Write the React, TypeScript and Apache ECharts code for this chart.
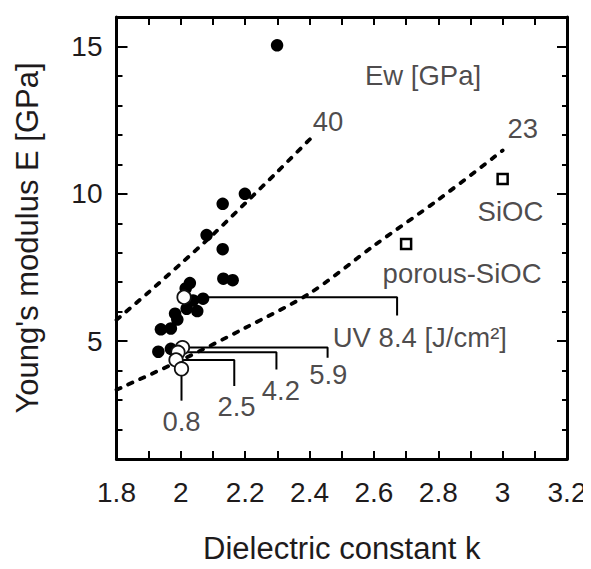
import React, { useEffect, useRef } from "react";
import * as echarts from "echarts";

// ---- data ----
const filledK = [2.028, 2.015, 2.038, 2.069, 2.018, 2.051, 1.982, 1.989, 1.938, 1.969, 1.93, 1.969, 2.132, 2.161, 2.299, 2.199, 2.13, 2.08, 2.13];
const filledE = [6.97, 6.79, 6.38, 6.44, 6.1, 6.02, 5.93, 5.73, 5.4, 5.43, 4.64, 4.74, 7.12, 7.07, 15.04, 10.0, 9.66, 8.6, 8.12];

const uvDoses = ["8.4", "5.9", "4.2", "2.5", "0.8"];
const openK = [2.01, 2.005, 1.991, 1.985, 2.002];
const openE = [6.49, 4.78, 4.62, 4.36, 4.06];

const refNames = ["SiOC", "porous-SiOC"];
const refK = [3.0, 2.7];
const refE = [10.5, 8.3];

const curve40K = [1.8, 1.9, 2.0, 2.1, 2.2, 2.3, 2.41];
const curve40E = [5.72, 6.66, 7.63, 8.62, 9.68, 10.75, 11.95];
const curve23K = [1.8, 2.0, 2.2, 2.4, 2.6, 2.8, 3.0];
const curve23E = [3.35, 4.35, 5.45, 6.62, 8.24, 9.8, 11.47];

const xMin = 1.8, xMax = 3.2, xStep = 0.1;
const yMin = 1, yMax = 16, yStep = 1;
const yLabelValues = [5, 10, 15];

// ---- annotation layout (data-space anchors) ----
// leader line ends for each UV dose: horizontal to endK, then down to endE
const leaderEndK = [2.672, 2.456, 2.297, 2.166, 2.002];
const leaderEndE = [5.87, 4.44, 4.04, 3.48, 2.98];

const annotations = [
  { text: "Ew [GPa]", k: 2.572, e: 14.0, align: "left" },
  { text: "40", k: 2.41, e: 12.46, align: "left" },
  { text: "23", k: 3.015, e: 12.23, align: "left" },
  { text: "SiOC", k: 2.922, e: 9.39, align: "left" },
  { text: "porous-SiOC", k: 2.627, e: 7.31, align: "left" },
  { text: "UV 8.4 [J/cm²]", k: 2.472, e: 5.14, align: "left" },
  { text: "5.9", k: 2.458, e: 3.87, align: "center" },
  { text: "4.2", k: 2.311, e: 3.31, align: "center" },
  { text: "2.5", k: 2.173, e: 2.77, align: "center" },
  { text: "0.8", k: 2.002, e: 2.27, align: "center" },
];

const FONT = "'Liberation Sans', Arial, Helvetica, sans-serif";
const TXT = "#1e1b1c";

export default function App() {
  const ref = useRef<HTMLDivElement>(null);
  useEffect(() => {
    if (!ref.current) return;
    const chart = echarts.init(ref.current, undefined, { renderer: "svg" });

    const dash = { type: [4.5, 8.5] as any, width: 3.8, cap: "round" as any, color: "#000" };
    const tickStyle = { color: "#000", width: 2 };
    const lineStyleAxis = { color: "#000", width: 3 };

    const leaderSeries = uvDoses.map((d, i) => ({
      type: "line",
      name: "UV " + d,
      symbol: "none",
      silent: true,
      z: 3,
      lineStyle: { color: "#000", width: 2 },
      data:
        i === uvDoses.length - 1
          ? [[openK[i], openE[i]], [leaderEndK[i], leaderEndE[i]]]
          : [
              [openK[i], openE[i]],
              [leaderEndK[i], openE[i]],
              [leaderEndK[i], leaderEndE[i]],
            ],
    }));

    chart.setOption({
      animation: false,
      backgroundColor: "#fff",
      grid: { left: 116.5, right: 24, top: 17, bottom: 103, containLabel: false },
      xAxis: [
        {
          type: "value",
          position: "bottom",
          min: xMin,
          max: xMax,
          interval: xStep,
          splitLine: { show: false },
          axisLine: { lineStyle: lineStyleAxis },
          axisTick: { inside: true, length: 8, lineStyle: tickStyle },
          axisLabel: {
            fontSize: 28,
            fontFamily: FONT,
            color: TXT,
            margin: 19,
            formatter: (v: number) => {
              const t = Math.round(v * 10);
              return t % 2 === 0 ? String(t / 10) : "";
            },
          },
          name: "Dielectric constant k",
          nameLocation: "middle",
          nameGap: 74,
          nameTextStyle: { fontSize: 31, fontFamily: FONT, color: TXT },
        },
        {
          type: "value",
          position: "top",
          min: xMin,
          max: xMax,
          interval: xStep,
          splitLine: { show: false },
          axisLine: { lineStyle: lineStyleAxis },
          axisTick: { inside: true, length: 8, lineStyle: tickStyle },
          axisLabel: { show: false },
        },
      ],
      yAxis: [
        {
          type: "value",
          position: "left",
          min: yMin,
          max: yMax,
          interval: yStep,
          splitLine: { show: false },
          axisLine: { show: true, lineStyle: lineStyleAxis },
          axisTick: { inside: true, length: 6, lineStyle: tickStyle },
          axisLabel: {
            fontSize: 28,
            fontFamily: FONT,
            color: TXT,
            margin: 14,
            formatter: (v: number) => (yLabelValues.indexOf(Math.round(v)) >= 0 ? String(Math.round(v)) : ""),
          },
          name: "Young's modulus E [GPa]",
          nameLocation: "middle",
          nameGap: 74,
          nameTextStyle: { fontSize: 31, fontFamily: FONT, color: TXT },
        },
        {
          type: "value",
          position: "right",
          min: yMin,
          max: yMax,
          interval: yStep,
          splitLine: { show: false },
          axisLine: { show: true, lineStyle: lineStyleAxis },
          axisTick: { inside: true, length: 5, lineStyle: tickStyle },
          axisLabel: { show: false },
        },
        {
          type: "value",
          position: "left",
          min: yMin,
          max: yMax,
          interval: yStep,
          splitLine: { show: false },
          axisLine: { show: false },
          axisTick: { inside: true, length: 11, customValues: yLabelValues, lineStyle: tickStyle },
          axisLabel: { show: false },
        },
        {
          type: "value",
          position: "right",
          min: yMin,
          max: yMax,
          interval: yStep,
          splitLine: { show: false },
          axisLine: { show: false },
          axisTick: { inside: true, length: 10, customValues: yLabelValues, lineStyle: tickStyle },
          axisLabel: { show: false },
        },
      ],
      series: [
        {
          type: "line",
          name: "Ew 40",
          symbol: "none",
          smooth: 0.3,
          z: 2,
          lineStyle: dash,
          data: curve40K.map((k, i) => [k, curve40E[i]]),
        },
        {
          type: "line",
          name: "Ew 23",
          symbol: "none",
          smooth: 0.3,
          z: 2,
          lineStyle: dash,
          data: curve23K.map((k, i) => [k, curve23E[i]]),
        },
        ...leaderSeries,
        {
          type: "scatter",
          name: "filled",
          symbol: "circle",
          symbolSize: 12.5,
          z: 4,
          itemStyle: { color: "#000", opacity: 1 },
          data: filledK.map((k, i) => [k, filledE[i]]),
        },
        {
          type: "scatter",
          name: "UV cured",
          symbol: "circle",
          symbolSize: 13.5,
          z: 5,
          itemStyle: { color: "#fff", borderColor: "#111", borderWidth: 1.8, opacity: 1 },
          data: openK.map((k, i) => [k, openE[i]]),
        },
        {
          type: "scatter",
          name: "reference",
          symbol: "rect",
          symbolSize: 10,
          z: 5,
          itemStyle: { color: "#fff", borderColor: "#000", borderWidth: 2.5, opacity: 1 },
          data: refK.map((k, i) => ({ name: refNames[i], value: [k, refE[i]] })),
        },
        {
          type: "scatter",
          name: "annotations",
          symbolSize: 0,
          silent: true,
          z: 6,
          data: annotations.map((a) => ({
            value: [a.k, a.e],
            label: {
              show: true,
              position: "inside",
              formatter: a.text,
              align: a.align,
              verticalAlign: "middle",
              fontSize: 27.5,
              fontFamily: FONT,
              color: TXT,
            },
          })),
        },
      ],
    });
    return () => chart.dispose();
  }, []);
  return <div ref={ref} style={{ width: 591, height: 569, margin: -8 }} />;
}
